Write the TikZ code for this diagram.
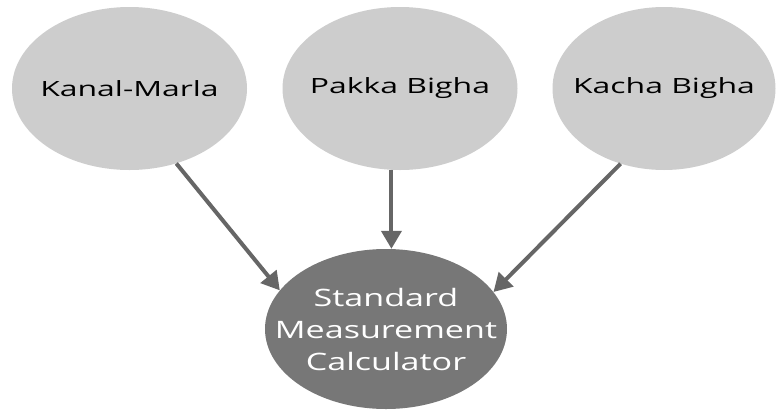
\documentclass[tikz,border=0pt]{standalone}
\usepackage{fontspec}
\setmainfont{Open Sans}
\newfontfamily\widesans[FakeStretch=1.52]{Open Sans}
\newfontfamily\calcsans[FakeStretch=1.42]{Open Sans}
\usetikzlibrary{shapes.geometric,arrows.meta}
\definecolor{unitfill}{HTML}{CDCDCD}
\definecolor{calcfill}{HTML}{777777}
\definecolor{linkgray}{HTML}{666666}
% zero-width line so the ellipse keeps its own size
\newcommand{\flatline}[1]{\makebox[0pt]{#1}}
\tikzset{
  unit/.style={ellipse, fill=unitfill, inner sep=0pt, minimum width=235pt,
    minimum height=163pt, text=black,
    font=\widesans\fontsize{21}{24}\selectfont},
  calc/.style={ellipse, fill=calcfill, inner sep=0pt, minimum width=242pt,
    minimum height=160pt, text=white, align=center,
    font=\calcsans\fontsize{24}{32}\selectfont},
  link/.style={draw=linkgray, line width=4pt,
    -{Triangle[length=18pt,width=20pt]}}
}
\begin{document}
\begin{tikzpicture}[x=1pt,y=-1pt]
  \useasboundingbox (0,0) rectangle (777,413);
  \node[unit] (km) at (129.5,88.5) {\flatline{Kanal-Marla}};
  \node[unit] (pb) at (400,88.5) {\flatline{Pakka Bigha}};
  \node[unit, minimum width=223pt] (kb) at (664,88.5) {\flatline{Kacha Bigha}};
  \node[calc] (smc) at (386,329)
    {\flatline{Standard}\\\flatline{Measurement}\\\flatline{Calculator}};
  \draw[link] (km.-58) -- (smc.160);
  \draw[link] (pb.-96) -- (pb.-96 |- smc.north);
  \draw[link] (kb.-120) -- (smc.19);
\end{tikzpicture}
\end{document}
